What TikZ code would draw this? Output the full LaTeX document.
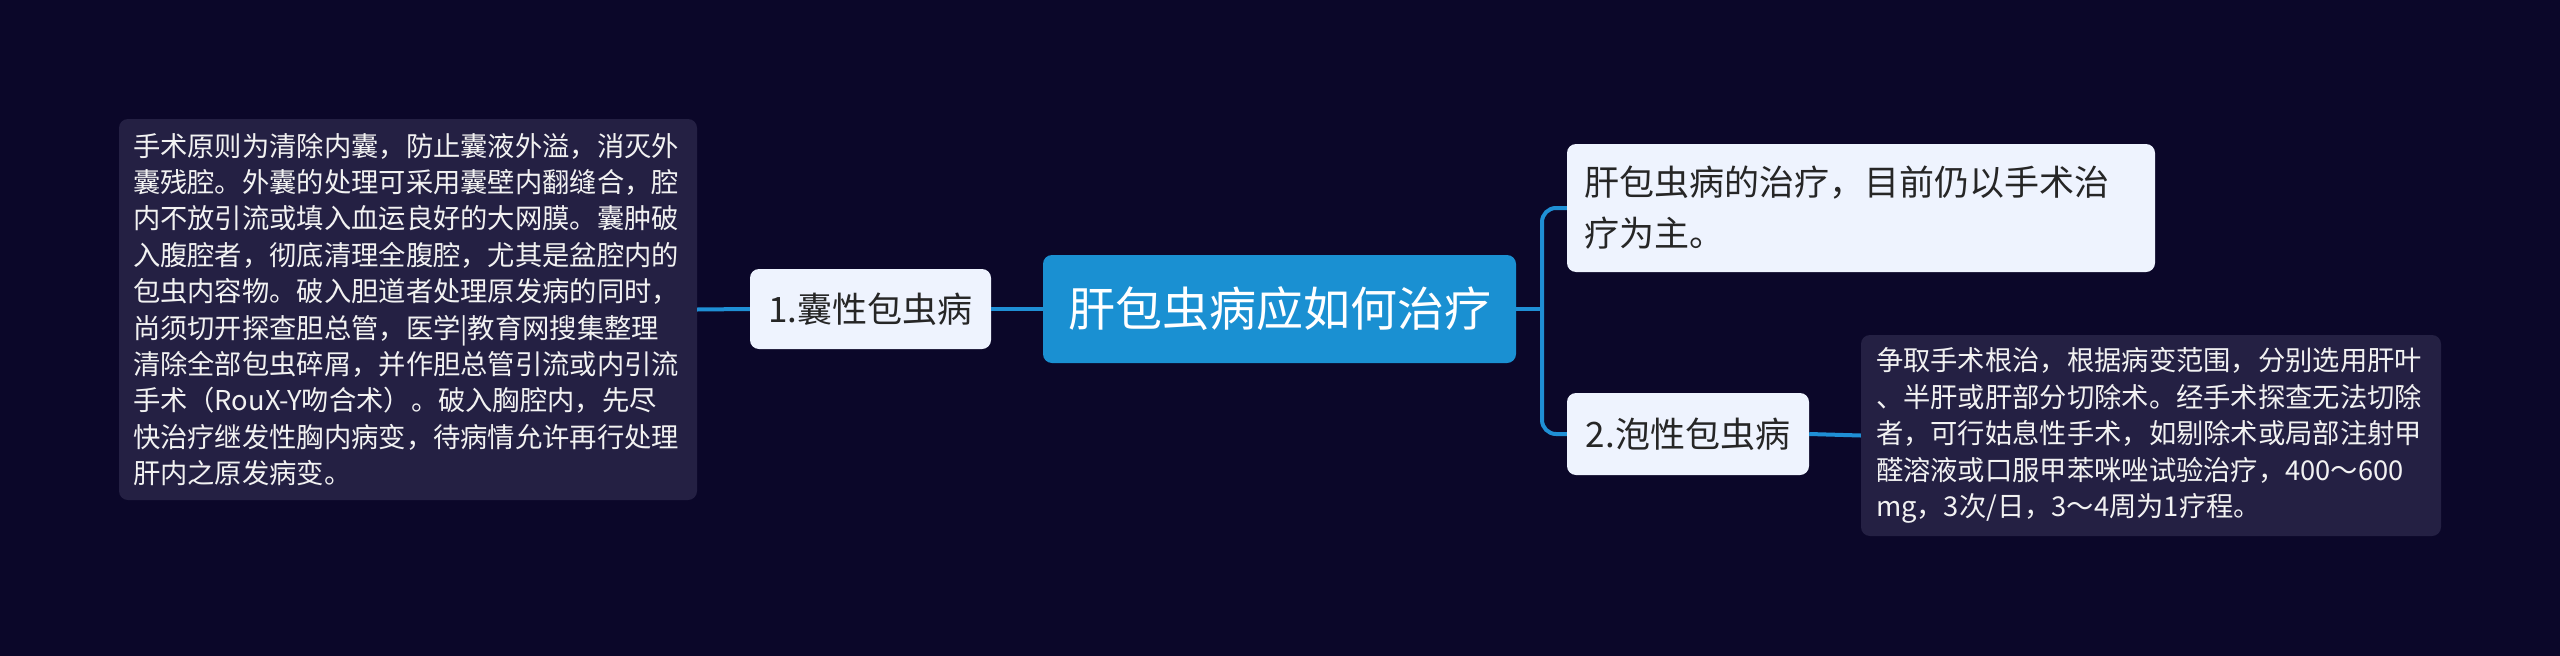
\documentclass[tikz,border=0pt]{standalone}
\usepackage{fontspec}
\setmainfont{Noto Sans CJK SC}
\definecolor{bgc}{HTML}{0B0729}
\definecolor{mainc}{HTML}{1A90D2}
\definecolor{lightc}{HTML}{EEF3FE}
\definecolor{darkc}{HTML}{242043}
\definecolor{linec}{HTML}{1F8FD5}
\definecolor{darktext}{HTML}{262626}
\definecolor{lighttext}{HTML}{F2F2F2}
\begin{document}
\begin{tikzpicture}[x=1pt,y=-1pt,
  box/.style={rounded corners=9pt, inner sep=0pt, align=left},
  lightbox/.style={box, fill=lightc, text=darktext, font=\fontsize{35}{51}\selectfont},
  darkbox/.style={box, fill=darkc, text=lighttext, font=\fontsize{27.3}{36.4}\selectfont},
  mainbox/.style={box, fill=mainc, text=white, align=center, font=\fontsize{47}{56}\selectfont},
  conn/.style={draw=linec, line width=4pt}
]
\useasboundingbox (0,0) rectangle (2560,656);
\fill[bgc] (0,0) rectangle (2560,656);

\node[mainbox, minimum width=473pt, minimum height=108pt] (main) at (1279.5,309) {肝包虫病应如何治疗};

\node[lightbox, align=center, minimum width=241pt, minimum height=80pt] (n1) at (870.5,309) {1.囊性包虫病};

\node[darkbox, minimum width=578pt, minimum height=381pt, text width=550pt] (d1) at (408,309.5) {手术原则为清除内囊，防止囊液外溢，消灭外\\囊残腔。外囊的处理可采用囊壁内翻缝合，腔\\内不放引流或填入血运良好的大网膜。囊肿破\\入腹腔者，彻底清理全腹腔，尤其是盆腔内的\\包虫内容物。破入胆道者处理原发病的同时，\\尚须切开探查胆总管，医学|教育网搜集整理\\清除全部包虫碎屑，并作胆总管引流或内引流\\手术（RouX-Y吻合术）。破入胸腔内，先尽\\快治疗继发性胸内病变，待病情允许再行处理\\肝内之原发病变。};

\node[lightbox, minimum width=588pt, minimum height=128pt, text width=554pt] (t1) at (1861,208) {肝包虫病的治疗，目前仍以手术治\\疗为主。};

\node[lightbox, align=center, minimum width=242pt, minimum height=82pt] (n2) at (1688,434) {2.泡性包虫病};

\node[darkbox, minimum width=580pt, minimum height=201pt, text width=550pt] (d2) at (2151,435.5) {争取手术根治，根据病变范围，分别选用肝叶\\、半肝或肝部分切除术。经手术探查无法切除\\者，可行姑息性手术，如剔除术或局部注射甲\\醛溶液或口服甲苯咪唑试验治疗，400～600\\mg，3次/日，3～4周为1疗程。};

\coordinate (junc) at (1542,309);
\draw[conn] (d1.east) -- (n1.west);
\draw[conn] (n1.east) -- (main.west);
\draw[conn] (main.east) -- (junc);
\draw[conn, rounded corners=14pt] (junc) |- (t1.west);
\draw[conn, rounded corners=14pt] (junc) |- (n2.west);
\draw[conn] (n2.east) -- (d2.west);
\end{tikzpicture}
\end{document}
